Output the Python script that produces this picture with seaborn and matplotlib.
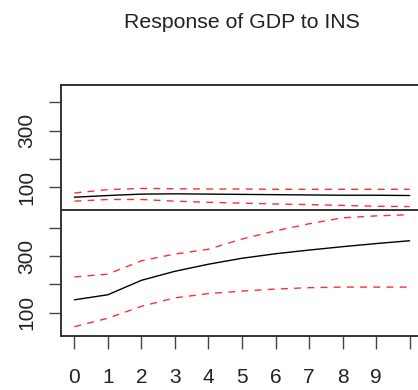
import numpy as np
import pandas as pd
import matplotlib
matplotlib.use("Agg")
import matplotlib.pyplot as plt
import seaborn as sns

sns.set_style("white")
plt.rcParams['font.family'] = ['Liberation Sans', 'DejaVu Sans']

horizon = list(range(11))
x_tick_labels = ['0', '1', '2', '3', '4', '5', '6', '7', '8', '9', '']
y_ticks = [100, 200, 300, 400]
y_tick_labels = ['100', '', '300', '']

# top panel (partially visible)
top_resp = [64, 70, 75, 76, 75, 74, 73, 72, 71, 71, 70]
top_upper = [79, 91, 95, 94, 93, 93, 92, 92, 92, 92, 92]
top_lower = [50, 56, 56, 50, 46, 43, 40, 38, 35, 32, 31]

# bottom panel
bot_resp = [145, 163, 214, 246, 271, 292, 308, 321, 333, 344, 354]
bot_upper = [226, 236, 283, 307, 324, 360, 389, 414, 435, 442, 446]
bot_lower = [50, 80, 122, 152, 167, 176, 183, 188, 190, 190, 190]

title = "Response of GDP to INS"

W, H = 418, 390
fig = plt.figure(figsize=(W / 100, H / 100), dpi=100)

def px_axes(left, top, right, bottom):
    return fig.add_axes([left / W, 1 - bottom / H, (right - left) / W, (bottom - top) / H])

ax_top = px_axes(61, 85, 423, 210.5)
ax_bot = px_axes(61, 210.5, 423, 336)

FS = 15

def draw(ax, resp, upper, lower, show_x):
    df = pd.DataFrame({
        'h': horizon * 3,
        'v': resp + upper + lower,
        'kind': ['resp'] * 11 + ['upper'] * 11 + ['lower'] * 11,
    })
    sns.lineplot(data=df, x='h', y='v', hue='kind', style='kind',
                 palette={'resp': 'black', 'upper': '#ff3030', 'lower': '#ff3030'},
                 dashes={'resp': '', 'upper': (5, 4.5), 'lower': (5, 4.5)},
                 linewidth=1.0, legend=False, ax=ax)
    ax.set_xlim(-0.4, 10.4)
    ax.set_ylim(17, 461)
    ax.set_xlabel('')
    ax.set_ylabel('')
    ax.set_yticks(y_ticks)
    ax.set_yticklabels(y_tick_labels, rotation=90, va='center', fontsize=FS, color='#222222')
    ax.tick_params(axis='y', left=True, direction='out', length=9, width=1.0,
                   color='#444444', pad=9)
    for s in ax.spines.values():
        s.set_color('#333333')
        s.set_linewidth(1.4)
    if show_x:
        ax.set_xticks(horizon)
        ax.set_xticklabels(x_tick_labels, fontsize=FS, color='#222222')
        ax.tick_params(axis='x', bottom=True, direction='out', length=9, width=1.0,
                       color='#444444', pad=14)
    else:
        ax.set_xticks([])

draw(ax_top, top_resp, top_upper, top_lower, False)
draw(ax_bot, bot_resp, bot_upper, bot_lower, True)

fig.text(242 / W, 1 - 22 / H, title, ha='center', va='center', fontsize=15.3, color='#222222')

fig.savefig('out.png', dpi=100)
